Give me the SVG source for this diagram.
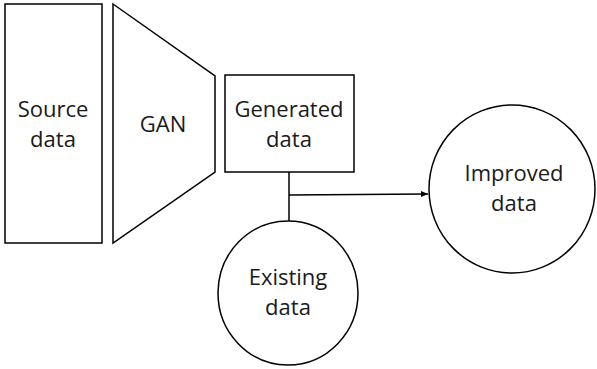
<svg xmlns="http://www.w3.org/2000/svg" width="597" height="369" viewBox="0 0 597 369">
<defs>
<style>
.s{fill:#fff;stroke:#000;stroke-width:1.5}
.t{font-family:"Open Sans","Noto Sans","Liberation Sans",sans-serif;font-size:22px;fill:#1a1a1a;text-anchor:middle}
.c{fill:none;stroke:#000;stroke-width:1.5}
</style>
<marker id="ah" markerWidth="8" markerHeight="8" refX="7" refY="4" orient="auto" markerUnits="userSpaceOnUse">
<path d="M0,1 L7,4 L0,7 Z" fill="#000"/>
</marker>
</defs>
<rect width="597" height="369" fill="#fff"/>
<g id="source">
<rect class="s" x="5" y="4" width="97" height="239"/>
<text class="t" x="53" y="117">Source</text>
<text class="t" x="53" y="147">data</text>
</g>
<g id="gan">
<polygon class="s" points="113,4 215,76 215,172 113,243"/>
<text class="t" x="163" y="132">GAN</text>
</g>
<g id="generated">
<rect class="s" x="225" y="75" width="129" height="97"/>
<text class="t" x="289" y="117">Generated</text>
<text class="t" x="289" y="147">data</text>
</g>
<g id="existing">
<ellipse class="s" cx="288" cy="293" rx="70" ry="72"/>
<text class="t" x="288" y="285">Existing</text>
<text class="t" x="288" y="315">data</text>
</g>
<g id="improved">
<ellipse class="s" cx="512" cy="189" rx="83" ry="84"/>
<text class="t" x="514" y="181">Improved</text>
<text class="t" x="514" y="211">data</text>
</g>
<g id="connectors">
<line class="c" x1="289" y1="172" x2="289" y2="221"/>
<line class="c" x1="289" y1="195" x2="428" y2="194" marker-end="url(#ah)"/>
</g>
</svg>
